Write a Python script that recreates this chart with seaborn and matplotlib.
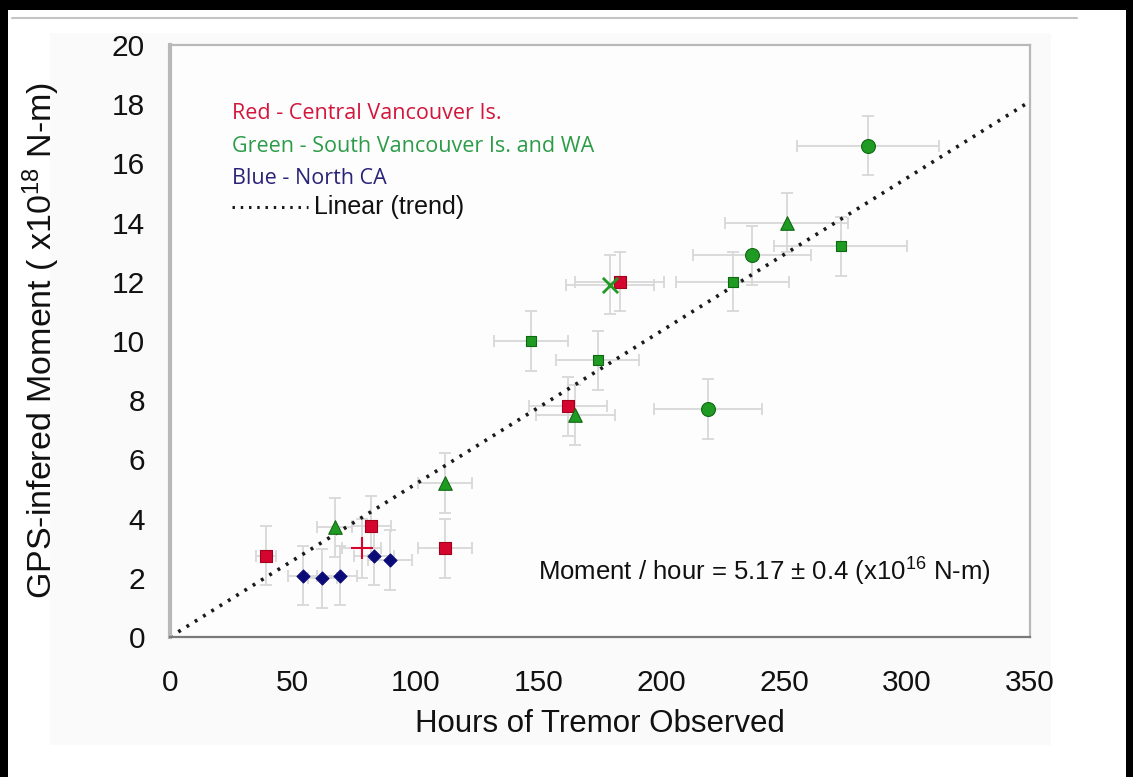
import numpy as np
import pandas as pd
import matplotlib
matplotlib.use("Agg")
import matplotlib.pyplot as plt
import seaborn as sns
from matplotlib.patches import Rectangle
from matplotlib.lines import Line2D

# ---------------- data ----------------
# Red - Central Vancouver Is. (squares)
red_sq_hours = [39, 82, 112, 162, 183]
red_sq_moment = [2.75, 3.75, 3.0, 7.8, 12.0]
red_sq_hours_err = [4, 8, 11, 16, 18]
red_sq_moment_err = [1.0, 1.0, 1.0, 1.0, 1.0]

# Red plus
red_plus_hours = [78]
red_plus_moment = [3.0]
red_plus_hours_err = [8]
red_plus_moment_err = [1.0]

# Green - South Vancouver Is. and WA
green_sq_hours = [147, 174, 229, 273]
green_sq_moment = [10.0, 9.35, 12.0, 13.2]
green_sq_hours_err = [15, 17, 23, 27]
green_sq_moment_err = [1.0, 1.0, 1.0, 1.0]

green_tri_hours = [67, 112, 165, 251]
green_tri_moment = [3.7, 5.2, 7.5, 14.0]
green_tri_hours_err = [7, 11, 16, 25]
green_tri_moment_err = [1.0, 1.0, 1.0, 1.0]

green_circ_hours = [219, 237, 284]
green_circ_moment = [7.7, 12.9, 16.6]
green_circ_hours_err = [22, 24, 29]
green_circ_moment_err = [1.0, 1.0, 1.0]

green_x_hours = [179]
green_x_moment = [11.9]
green_x_hours_err = [18]
green_x_moment_err = [1.0]

# Blue - North CA (diamonds)
blue_hours = [54, 62, 69, 83, 89.5]
blue_moment = [2.07, 1.98, 2.07, 2.75, 2.6]
blue_hours_err = [6, 6, 7, 8, 9]
blue_moment_err = [1.0, 1.0, 1.0, 1.0, 1.0]

trend_slope = 0.0517  # x10^18 N-m per hour  (5.17 x10^16 N-m / hour)

x_ticks = [0, 50, 100, 150, 200, 250, 300, 350]
y_ticks = [0, 2, 4, 6, 8, 10, 12, 14, 16, 18, 20]

legend_lines = ["Red - Central Vancouver Is.",
                "Green - South Vancouver Is. and WA",
                "Blue - North CA"]
annotation = "Moment / hour = 5.17 \u00b1 0.4 (x10$^{16}$ N-m)"

# ---------------- table ----------------
groups = [
    ("red_sq", red_sq_hours, red_sq_moment, red_sq_hours_err, red_sq_moment_err),
    ("red_plus", red_plus_hours, red_plus_moment, red_plus_hours_err, red_plus_moment_err),
    ("green_sq", green_sq_hours, green_sq_moment, green_sq_hours_err, green_sq_moment_err),
    ("green_tri", green_tri_hours, green_tri_moment, green_tri_hours_err, green_tri_moment_err),
    ("green_circ", green_circ_hours, green_circ_moment, green_circ_hours_err, green_circ_moment_err),
    ("green_x", green_x_hours, green_x_moment, green_x_hours_err, green_x_moment_err),
    ("blue", blue_hours, blue_moment, blue_hours_err, blue_moment_err),
]
rows = []
for g, h, m, he, me in groups:
    for a, b, c, d in zip(h, m, he, me):
        rows.append(dict(group=g, hours=a, moment=b, herr=c, merr=d))
df = pd.DataFrame(rows)

RED = "#d4062f"
GREEN = "#1f9a22"
GREEN_EDGE = "#0e6a12"
BLUE = "#0b0b78"
styles = {
    "red_sq": dict(marker="s", color=RED, edgecolor="#a0001c", s=68, linewidth=0.8),
    "red_plus": dict(marker="+", color=RED, s=230, linewidth=1.5),
    "green_sq": dict(marker="s", color=GREEN, edgecolor=GREEN_EDGE, s=62, linewidth=0.8),
    "green_tri": dict(marker="^", color=GREEN, edgecolor=GREEN_EDGE, s=95, linewidth=0.8),
    "green_circ": dict(marker="o", color=GREEN, edgecolor=GREEN_EDGE, s=100, linewidth=0.8),
    "green_x": dict(marker="x", color=GREEN, s=120, linewidth=2.0),
    "blue": dict(marker="D", color=BLUE, edgecolor=BLUE, s=44, linewidth=0.8),
}

# ---------------- figure ----------------
sns.set_theme(style="white")
plt.rcParams["font.family"] = ["Liberation Sans", "DejaVu Sans"]
plt.rcParams["mathtext.fontset"] = "custom"
plt.rcParams["mathtext.rm"] = "Liberation Sans"
plt.rcParams["mathtext.it"] = "Liberation Sans:italic"

fig = plt.figure(figsize=(11.33, 7.77), dpi=100, facecolor="white")

# chart area background
fig.patches.append(Rectangle((50 / 1133, 32 / 777), 1001 / 1133, 712 / 777,
                             transform=fig.transFigure, facecolor="#fafafa",
                             edgecolor="none", zorder=-5))
# black frame (top, left, right)
fig.patches.append(Rectangle((0, 1 - 10 / 777), 1, 10 / 777, transform=fig.transFigure,
                             facecolor="black", edgecolor="none", zorder=5))
fig.patches.append(Rectangle((0, 0), 8 / 1133, 1, transform=fig.transFigure,
                             facecolor="black", edgecolor="none", zorder=5))
fig.patches.append(Rectangle((1 - 7 / 1133, 0), 7 / 1133, 1, transform=fig.transFigure,
                             facecolor="black", edgecolor="none", zorder=5))
fig.add_artist(Line2D([12 / 1133, 1077 / 1133], [1 - 18 / 777, 1 - 18 / 777],
                      transform=fig.transFigure, color="#c4c4c4", lw=1.5))

ax = fig.add_axes([170 / 1133, (777 - 637) / 777, 860 / 1133, 592 / 777])
ax.set_zorder(1)
ax.set_facecolor("#fdfdfd")

for g, sub in df.groupby("group", sort=False):
    ax.errorbar(sub["hours"], sub["moment"], xerr=sub["herr"], yerr=sub["merr"],
                fmt="none", ecolor="#d8d8d8", elinewidth=1.3, capsize=4,
                capthick=1.3, zorder=1)

for g, sub in df.groupby("group", sort=False):
    st = styles[g]
    sns.scatterplot(data=sub, x="hours", y="moment", ax=ax, legend=False,
                    zorder=3, **st)

# trend line
xs = np.array([x_ticks[0], x_ticks[-1]], dtype=float)
sns.lineplot(x=xs, y=trend_slope * xs, ax=ax, color="#1a1a1a", lw=2.6,
             linestyle=(0, (0.8, 1.9)), zorder=2)

ax.set_xlim(x_ticks[0], x_ticks[-1])
ax.set_ylim(y_ticks[0], y_ticks[-1])
ax.set_xticks(x_ticks)
ax.set_yticks(y_ticks)
ax.set_xticklabels([str(t) for t in x_ticks])
ax.set_yticklabels([str(t) for t in y_ticks])
ax.tick_params(axis="x", direction="out", length=8, width=1.2, color="#8a8a8a",
               labelsize=21.5, pad=15, labelcolor="#111111")
ax.tick_params(axis="y", direction="out", length=8, width=1.2, color="#a8a8a8",
               labelsize=21.5, pad=10, labelcolor="#111111")
for side in ["top", "right"]:
    ax.spines[side].set_color("#b8b8b8")
    ax.spines[side].set_linewidth(1.6)
ax.spines["left"].set_color("#b8b8b8")
ax.spines["left"].set_linewidth(3)
ax.spines["bottom"].set_color("#7a7a7a")
ax.spines["bottom"].set_linewidth(1.6)
ax.grid(False)

ax.set_xlabel("Hours of Tremor Observed", fontsize=22.5, color="#111111")
ax.xaxis.set_label_coords(0.5, -0.122)
ax.set_ylabel("GPS-infered Moment ( x10$^{18}$ N-m)", fontsize=24.5, color="#111111")
ax.yaxis.set_label_coords(-0.125, 0.5)

# legend-like coloured text
leg_colors = ["#d2163c", "#2c9c48", "#2a2478"]
leg_y = [0.885, 0.828, 0.775]
for txt, c, yy in zip(legend_lines, leg_colors, leg_y):
    ax.text(0.072, yy, txt, transform=ax.transAxes, color=c, fontsize=15.5,
            family=["Open Sans", "DejaVu Sans"], ha="left", va="center")
ax.add_line(Line2D([0.072, 0.160], [0.726, 0.726], transform=ax.transAxes,
                   color="#1a1a1a", lw=2.2, linestyle=(0, (0.8, 1.9))))
ax.text(0.168, 0.726, "Linear (trend)", transform=ax.transAxes, fontsize=18,
        color="#111111", ha="left", va="center")

ax.text(242, 2.2, annotation, fontsize=18.5, ha="center", va="center", color="#111111")

fig.savefig("out.png", dpi=100, facecolor="white")
